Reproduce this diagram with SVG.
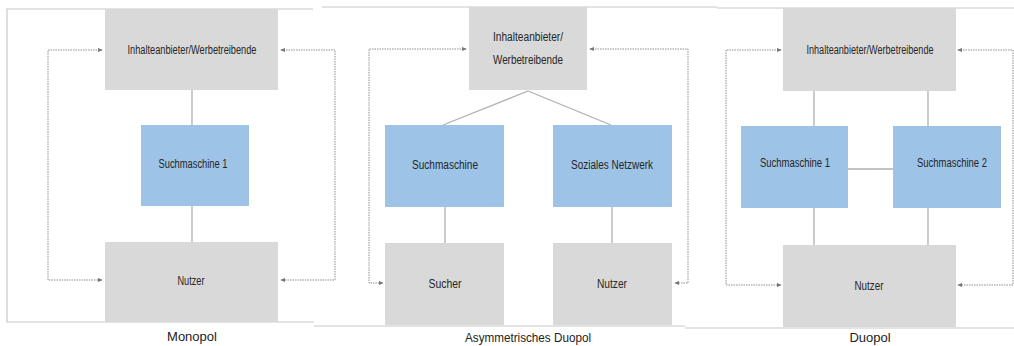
<svg xmlns="http://www.w3.org/2000/svg" width="1014" height="346" viewBox="0 0 1014 346">
<defs>
<marker id="ah" viewBox="0 0 6 6" refX="5" refY="3" markerWidth="5" markerHeight="5" orient="auto-start-reverse" markerUnits="userSpaceOnUse">
<path d="M0,0.5 L6,3 L0,5.5 Z" fill="#777"/>
</marker>
<style>
.gray{fill:#d9d9d9}
.blue{fill:#9dc3e6}
.t{font-family:"Liberation Sans",Arial,sans-serif;font-size:12px;fill:#262626;text-anchor:middle}
.cap{font-family:"Liberation Sans",Arial,sans-serif;font-size:13px;fill:#222;text-anchor:middle}
.ln{stroke:#b0b0b0;stroke-width:1.3;fill:none}
.dot{stroke:#8f8f8f;stroke-width:1;stroke-dasharray:1.5 1;fill:none;marker-start:url(#ah);marker-end:url(#ah)}
.frame{stroke:#c8c8c8;stroke-width:1.2;fill:none}
</style>
</defs>
<rect width="1014" height="346" fill="#fff"/>
<g id="frames">
<path class="frame" d="M313,9 H7 V322 H314"/>
<path class="frame" d="M322,7 H717"/>
<path class="frame" d="M314,326 H685"/>
<path class="frame" d="M717,8 H1014"/>
<path class="frame" d="M685,328 H1014"/>
</g>
<g id="connectors">
<line class="ln" x1="192" y1="90" x2="192" y2="125"/>
<line class="ln" x1="192" y1="206" x2="192" y2="242"/>
<path class="dot" d="M102,50 H48 V280 H102"/>
<path class="dot" d="M281,50 H335 V280 H281"/>
<line class="ln" x1="528" y1="91" x2="443" y2="125"/>
<line class="ln" x1="528" y1="91" x2="611" y2="125"/>
<line class="ln" x1="445" y1="207" x2="445" y2="243"/>
<line class="ln" x1="612" y1="207" x2="612" y2="243"/>
<path class="dot" d="M466,49 H369 V283 H383"/>
<path class="dot" d="M590,49 H688 V283 H675"/>
<line class="ln" x1="814" y1="91" x2="814" y2="126"/>
<line class="ln" x1="928" y1="91" x2="928" y2="126"/>
<line class="ln" x1="814" y1="208" x2="814" y2="245"/>
<line class="ln" x1="928" y1="208" x2="928" y2="245"/>
<line class="ln" x1="848" y1="169" x2="893" y2="169"/>
<path class="dot" d="M781,50 H726 V285 H781"/>
<path class="dot" d="M958,50 H1013 V285 H958"/>
</g>
<g id="m-top"><rect class="gray" x="105" y="9" width="173" height="81"/><text class="t" x="192" y="54" textLength="129" lengthAdjust="spacingAndGlyphs">Inhalteanbieter/Werbetreibende</text></g>
<g id="m-such"><rect class="blue" x="141" y="125" width="108" height="81"/><text class="t" x="193" y="168" textLength="69" lengthAdjust="spacingAndGlyphs">Suchmaschine 1</text></g>
<g id="m-nutzer"><rect class="gray" x="105" y="242" width="173" height="80"/><text class="t" x="191" y="285" textLength="27" lengthAdjust="spacingAndGlyphs">Nutzer</text></g>
<g id="m-label"><text class="cap" x="192" y="341">Monopol</text></g>
<g id="a-top"><rect class="gray" x="469" y="7" width="118" height="83"/><text class="t" x="528" y="41" textLength="70" lengthAdjust="spacingAndGlyphs">Inhalteanbieter/</text><text class="t" x="528" y="64" textLength="70" lengthAdjust="spacingAndGlyphs">Werbetreibende</text></g>
<g id="a-such"><rect class="blue" x="385" y="125" width="119" height="82"/><text class="t" x="445" y="169" textLength="66" lengthAdjust="spacingAndGlyphs">Suchmaschine</text></g>
<g id="a-sozial"><rect class="blue" x="553" y="125" width="119" height="82"/><text class="t" x="612" y="169" textLength="82" lengthAdjust="spacingAndGlyphs">Soziales Netzwerk</text></g>
<g id="a-sucher"><rect class="gray" x="385" y="243" width="119" height="82"/><text class="t" x="445" y="288" textLength="33" lengthAdjust="spacingAndGlyphs">Sucher</text></g>
<g id="a-nutzer"><rect class="gray" x="553" y="243" width="119" height="82"/><text class="t" x="612" y="288" textLength="30" lengthAdjust="spacingAndGlyphs">Nutzer</text></g>
<g id="a-label"><text class="cap" x="528" y="342" textLength="126" lengthAdjust="spacingAndGlyphs">Asymmetrisches Duopol</text></g>
<g id="d-top"><rect class="gray" x="783" y="8" width="173" height="83"/><text class="t" x="870" y="54" textLength="127" lengthAdjust="spacingAndGlyphs">Inhalteanbieter/Werbetreibende</text></g>
<g id="d-such1"><rect class="blue" x="741" y="126" width="107" height="82"/><text class="t" x="795" y="167" textLength="70" lengthAdjust="spacingAndGlyphs">Suchmaschine 1</text></g>
<g id="d-such2"><rect class="blue" x="893" y="126" width="108" height="82"/><text class="t" x="952" y="167" textLength="70" lengthAdjust="spacingAndGlyphs">Suchmaschine 2</text></g>
<g id="d-nutzer"><rect class="gray" x="783" y="245" width="173" height="82"/><text class="t" x="869" y="290" textLength="29" lengthAdjust="spacingAndGlyphs">Nutzer</text></g>
<g id="d-label"><text class="cap" x="870" y="342">Duopol</text></g>
</svg>
